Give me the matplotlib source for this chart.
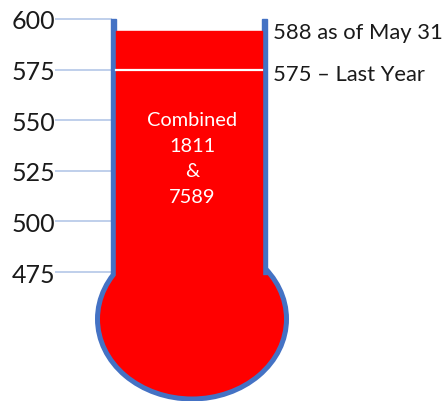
import matplotlib
matplotlib.use('Agg')
from matplotlib import pyplot as plt
from matplotlib.patches import Ellipse, Rectangle

# values
tick_values = [475, 500, 525, 550, 575, 600]
current = 588          # as written in the label
fill_level = 594       # where the red column actually stops in the picture
last_year = 575
inner_text = ['Combined', '1811', '&', '7589']

plt.rcParams['font.family'] = ['Lato', 'DejaVu Sans']

fig = plt.figure(figsize=(4.48, 4.02), dpi=100)
ax = fig.add_axes([55 / 448, 0, 1 - 55 / 448, 1])
# x in pixels, y in values (600 at 20px, 475 at 273px)
px = 253 / 125
ax.set_xlim(55, 448)
ax.set_ylim(475 - (402 - 273) / px, 600 + 20 / px)

blue = '#4472C4'
red = '#FF0000'

# tube walls
x_l, x_r = 111, 262
wall_w = 5
bottom = 474
ax.add_patch(Rectangle((x_l, bottom), wall_w, 600 - bottom, color=blue, zorder=3))
ax.add_patch(Rectangle((x_r, bottom), wall_w, 600 - bottom, color=blue, zorder=3))

# bulb
bulb_y = 475 - (320 - 273) / px
ax.add_patch(Ellipse((192, bulb_y), 189, 160 / px, facecolor=red,
                     edgecolor=blue, lw=3.6, zorder=2))

# red column
ax.add_patch(Rectangle((x_l + wall_w, bulb_y), x_r - x_l - wall_w,
                       fill_level - bulb_y, color=red, zorder=4))

# last year marker
ax.plot([x_l + wall_w, x_r], [last_year, last_year], color='white', lw=1.6, zorder=5)

ax.text(273, fill_level - 0.5, f'{current} as of May 31', fontsize=15.8,
        va='center', ha='left', color='#1a1a1a')
ax.text(273, last_year - 2, f'{last_year} \u2013 Last Year', fontsize=15.8,
        va='center', ha='left', color='#1a1a1a')

for i, s in enumerate(inner_text):
    ax.text(192, 600 - (121 - 20) / px - i * 25.5 / px, s, color='white',
            fontsize=14.4, ha='center', va='center', zorder=6)

ax.set_yticks(tick_values)
ax.set_yticklabels([str(v) for v in tick_values], fontsize=18, color='#1a1a1a')
ax.tick_params(axis='y', direction='in', length=41, width=1.2,
               color='#B4C7E7', pad=0)
ax.set_xticks([])
for s in ax.spines.values():
    s.set_visible(False)

fig.savefig('out.png', dpi=100)
